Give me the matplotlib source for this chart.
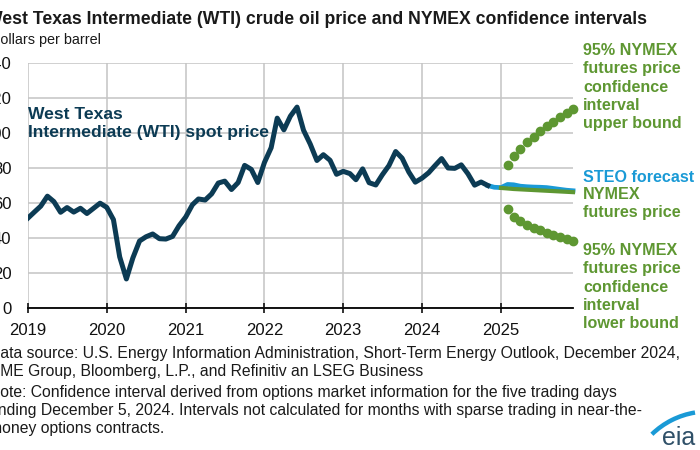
import numpy as np
import pandas as pd
import matplotlib
matplotlib.use("Agg")
import matplotlib.pyplot as plt
import matplotlib.dates as mdates
from matplotlib.patches import Arc

plt.rcParams['font.family'] = ['Liberation Sans', 'DejaVu Sans']

# monthly WTI spot price, Jan 2019 - Nov 2024
wti_months = pd.date_range("2019-01-01", "2024-11-01", freq="MS")
wti_price = [51.4, 55.0, 58.2, 63.9, 60.8, 54.7, 57.4, 54.8, 57.0, 54.0, 57.0, 59.9,
             57.5, 50.5, 29.2, 16.6, 28.6, 38.3, 40.7, 42.3, 39.6, 39.4, 40.9, 47.0,
             52.0, 59.0, 62.3, 61.7, 65.2, 71.4, 72.5, 67.7, 71.7, 81.5, 79.2, 71.7,
             83.2, 91.6, 108.5, 101.8, 109.6, 114.8, 101.6, 93.7, 84.3, 87.6, 84.4, 76.4,
             78.1, 76.8, 73.3, 79.5, 71.6, 70.3, 76.1, 81.4, 89.4, 85.6, 77.7, 71.9,
             74.2, 77.3, 81.3, 85.4, 80.0, 79.8, 81.8, 76.7, 70.2, 72.0, 70.0]

# STEO forecast, Nov 2024 - Dec 2025
steo_months = pd.date_range("2024-11-01", "2025-12-01", freq="MS")
steo_price = [70.0, 69.0, 68.8, 70.6, 70.4, 69.6, 69.3, 69.1, 69.0, 68.8, 68.3, 67.8, 67.3, 67.0]

# NYMEX futures and 95% confidence interval
futures_months = pd.date_range("2025-01-01", "2025-12-01", freq="MS")
futures_price = [68.6, 68.3, 68.0, 67.8, 67.6, 67.4, 67.2, 67.0, 66.8, 66.6, 66.4, 66.2]
ci_months = pd.date_range("2025-02-01", "2025-12-01", freq="MS")
ci_upper = [82.0, 87.0, 91.0, 95.0, 98.0, 101.0, 104.0, 106.5, 109.0, 111.5, 113.7]
ci_lower = [56.5, 52.0, 49.5, 47.5, 46.0, 44.5, 43.0, 42.0, 40.5, 39.5, 38.3]

yticks = [0, 20, 40, 60, 80, 100, 120, 140]
years = [2019, 2020, 2021, 2022, 2023, 2024, 2025]

navy = '#0c3b54'
blue = '#1a9ad6'
green = '#5e9732'
W, H = 700, 450

def fx(px):
    return px / W

def fy(py):
    return 1 - py / H

fig = plt.figure(figsize=(7, 4.5), dpi=100)
ax = fig.add_axes([fx(28), fy(308), 545 / W, 245 / H])

ax.plot(wti_months, wti_price, color=navy, lw=3.6, solid_joinstyle='round', zorder=4)
ax.plot(steo_months, steo_price, color=blue, lw=3.4, zorder=3, clip_on=False)
ax.plot(futures_months, futures_price, color=green, lw=3.0, zorder=3.5, clip_on=False)
ax.plot(ci_months, ci_upper, 'o', color=green, ms=6, zorder=3, clip_on=False)
ax.plot(ci_months, ci_lower, 'o', color=green, ms=6, zorder=3, clip_on=False)

ax.set_xlim(pd.Timestamp("2019-01-01"), pd.Timestamp("2025-12-01"))
ax.set_ylim(0, 140)
ax.set_yticks(yticks)
ax.set_xticks([pd.Timestamp(f"{y}-01-01") for y in years])
ax.xaxis.set_major_formatter(mdates.DateFormatter('%Y'))
ax.grid(True, color='#c4c4c4', lw=1.1)
ax.set_axisbelow(True)
for s in ['left', 'right', 'top']:
    ax.spines[s].set_visible(False)
ax.spines['bottom'].set_color('black')
ax.spines['bottom'].set_linewidth(1.3)
ax.tick_params(axis='y', length=0, pad=12, labelsize=12, colors='#111111')
ax.tick_params(axis='x', direction='inout', length=7, width=1.2, pad=7, labelsize=12, colors='#111111')

fig.text(fx(-14), fy(20), "West Texas Intermediate (WTI) crude oil price and NYMEX confidence intervals",
         fontsize=12.7, fontweight='bold', color='#1a1a1a', va='center')
fig.text(fx(-10), fy(40), "Dollars per barrel", fontsize=10.4, color='#1a1a1a', va='center')

fig.text(fx(28), fy(107), "West Texas\nIntermediate (WTI) spot price", fontsize=12.6,
         fontweight='bold', color=navy, va='top', linespacing=1.27)

fig.text(fx(583), fy(43), "95% NYMEX\nfutures price\nconfidence\ninterval\nupper bound",
         fontsize=11.6, fontweight='bold', color=green, va='top', linespacing=1.28)
fig.text(fx(583), fy(177), "STEO forecast", fontsize=11.6, fontweight='bold', color=blue, va='center')
fig.text(fx(583), fy(187), "NYMEX\nfutures price", fontsize=11.6, fontweight='bold', color=green,
         va='top', linespacing=1.28)
fig.text(fx(583), fy(243), "95% NYMEX\nfutures price\nconfidence\ninterval\nlower bound",
         fontsize=11.6, fontweight='bold', color=green, va='top', linespacing=1.28)

fig.text(fx(-11), fy(346), "Data source: U.S. Energy Information Administration, Short-Term Energy Outlook, December 2024,\n"
         "CME Group, Bloomberg, L.P., and Refinitiv an LSEG Business",
         fontsize=11.3, color='#1a1a1a', va='top', linespacing=1.29)
fig.text(fx(-11), fy(385), "Note: Confidence interval derived from options market information for the five trading days\n"
         "ending December 5, 2024. Intervals not calculated for months with sparse trading in near-the-\n"
         "money options contracts.",
         fontsize=11.3, color='#1a1a1a', va='top', linespacing=1.27)

# eia logo
fig.text(fx(662), fy(445), "eia", fontsize=18, color='#2f5068', va='baseline', ha='left')
fig.patches.append(Arc((fx(708), fy(492)), 161 / W, 161 / H, theta1=96, theta2=122,
                       transform=fig.transFigure, color=blue, lw=3.2))

fig.savefig("out.png", dpi=100)
